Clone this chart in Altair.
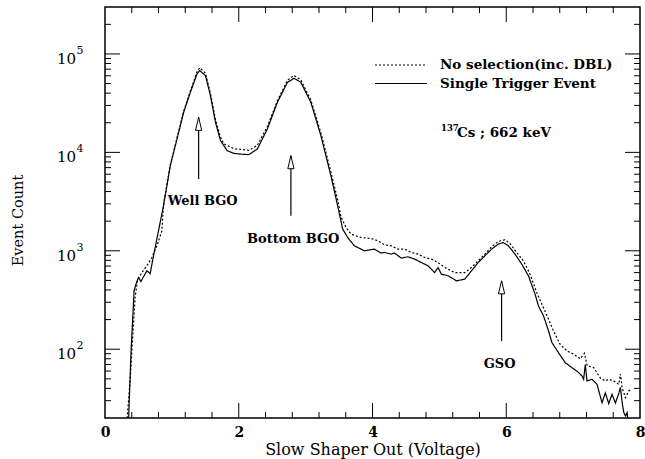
import altair as alt
import pandas as pd

# ---------------- data ----------------
single_x = [0.34, 0.353, 0.39, 0.435, 0.465, 0.5, 0.536, 0.626, 0.676, 0.725, 0.8, 0.875,
            0.976, 1.077, 1.176, 1.276, 1.377, 1.416, 1.502, 1.577, 1.652, 1.727, 1.827,
            1.927, 2.042, 2.152, 2.278, 2.428, 2.578, 2.728, 2.827, 2.928, 3.078, 3.228,
            3.378, 3.479, 3.554, 3.629, 3.728, 3.878, 4.028, 4.129, 4.179, 4.279, 4.329,
            4.429, 4.53, 4.629, 4.73, 4.83, 4.929, 4.98, 5.03, 5.131, 5.255, 5.38, 5.48,
            5.581, 5.68, 5.781, 5.881, 5.956, 6.031, 6.131, 6.231, 6.332, 6.431, 6.482,
            6.557, 6.632, 6.682, 6.782, 6.882, 6.982, 7.082, 7.132, 7.157, 7.182, 7.207,
            7.282, 7.357, 7.432, 7.482, 7.532, 7.582, 7.632, 7.683, 7.707, 7.733, 7.758,
            7.782, 7.808, 7.823]
single_y = [15, 19.5, 96, 392, 461, 535, 487, 626, 587, 889, 1596, 2871,
            7330, 13700, 25500, 40700, 62800, 67800, 60300, 37700, 20200, 13200, 10400,
            9770, 9590, 9480, 10830, 17300, 32300, 51500, 56600, 51500, 32300, 14800,
            5790, 2870, 1663, 1365, 1124, 1000, 1040, 948, 962, 925, 948,
            843, 869, 824, 761, 704, 601, 676, 579, 557, 495, 515, 626,
            761, 889, 1040, 1169, 1213, 1124, 925, 733, 557, 363, 275,
            218, 154, 117, 92, 73, 65, 58, 53.5, 49.5, 70, 47.6,
            49.5, 44, 28.6, 36, 28, 34.8, 28.4, 35.5, 41, 28.6, 22.7,
            21, 22.7, 17]

nosel_x = [0.32, 0.326, 0.375, 0.45, 0.485, 0.551, 0.626, 0.701, 0.776, 0.851, 0.875,
           0.976, 1.077, 1.176, 1.276, 1.377, 1.416, 1.502, 1.577, 1.652, 1.727, 1.776,
           1.927, 2.04, 2.152, 2.278, 2.428, 2.578, 2.728, 2.827, 2.928, 3.078, 3.228,
           3.378, 3.479, 3.53, 3.604, 3.679, 3.829, 3.979, 4.079, 4.179, 4.279, 4.38,
           4.479, 4.58, 4.68, 4.78, 4.88, 4.98, 5.08, 5.23, 5.38, 5.48, 5.581, 5.68,
           5.781, 5.881, 5.98, 6.056, 6.156, 6.257, 6.356, 6.456, 6.532, 6.632, 6.707,
           6.806, 6.907, 7.007, 7.107, 7.17, 7.21, 7.307, 7.407, 7.482, 7.532, 7.608,
           7.683, 7.707, 7.733, 7.782, 7.833, 7.872]
nosel_y = [15, 18, 47.5, 335, 495, 601, 704, 855, 1124, 1596, 2950,
           7400, 14000, 26000, 42000, 66000, 72500, 64000, 39500, 21500, 14300, 12200,
           10900, 10700, 10500, 11800, 18300, 33500, 54000, 60500, 54500, 34000, 15800,
           6300, 3300, 2200, 1726, 1479, 1365, 1334, 1265, 1151, 1124, 1040,
           1040, 962, 925, 855, 824, 761, 676, 601, 601, 676, 791, 925,
           1099, 1244, 1294, 1186, 962, 791, 579, 377, 287, 202, 153,
           112, 96, 89, 80, 91, 68, 65, 51, 47.6, 49.5, 47.6,
           44, 56, 40.7, 32.2, 37.7, 39.2]

series_names = ["No selection(inc. DBL)", "Single Trigger Event"]

x_major = [0, 2, 4, 6, 8]
x_minor = [0.4, 0.8, 1.2, 1.6, 2.4, 2.8, 3.2, 3.6, 4.4, 4.8, 5.2, 5.6, 6.4, 6.8, 7.2, 7.6]
y_major = [100, 1000, 10000, 100000]
y_label_base = ["10", "10", "10", "10"]
y_label_exp = ["2", "3", "4", "5"]
y_minor = [30, 40, 50, 60, 70, 80, 90,
           200, 300, 400, 500, 600, 700, 800, 900,
           2000, 3000, 4000, 5000, 6000, 7000, 8000, 9000,
           20000, 30000, 40000, 50000, 60000, 70000, 80000, 90000,
           200000]

arrow_names = ["Well BGO", "Bottom BGO", "GSO"]
arrow_x = [1.40, 2.78, 5.93]
arrow_tip = [22700, 9250, 495]
arrow_tail = [5360, 2270, 121]
label_x = [1.46, 2.815, 5.90]
label_y = [3230, 1316, 70]

# ---------------- layout constants ----------------
W, H = 535, 411
FONT = "DejaVu Serif"
MAJ, MIN = 15, 6

df = pd.DataFrame({
    "x": nosel_x + single_x,
    "y": nosel_y + single_y,
    "series": [series_names[0]] * len(nosel_x) + [series_names[1]] * len(single_x),
})
one = pd.DataFrame({"k": [0]})

xscale = alt.Scale(domain=[0, 8], nice=False, zero=False)
yscale = alt.Scale(type="log", domain=[20, 300000], nice=False)

x_axis = alt.Axis(values=x_major, format="d", ticks=False, domain=False, grid=False,
                  labelFlush=False, labelFont=FONT, labelFontWeight="bold", labelFontSize=14,
                  labelPadding=7, labelColor="black",
                  title="Slow Shaper Out (Voltage)", titleFont=FONT, titleFontSize=16,
                  titleFontWeight="normal", titleColor="black", titleY=31, titleBaseline="middle")
y_axis = alt.Axis(values=y_major, labels=False, ticks=False, domain=False, grid=False,
                  title="Event Count", titleFont=FONT, titleFontSize=14.5, titleFontWeight="normal",
                  titleColor="black", titleX=-87, titleY=213, titleAngle=-90,
                  titleAlign="center", titleBaseline="middle")

def X(field):
    return alt.X(field, type="quantitative", scale=xscale, axis=x_axis)

def Y(field):
    return alt.Y(field, type="quantitative", scale=yscale, axis=y_axis)

lines = alt.Chart(df).mark_line(clip=True, color="black", strokeWidth=1.2).encode(
    x=X("x"),
    y=Y("y"),
    strokeDash=alt.StrokeDash("series:N", scale=alt.Scale(domain=series_names, range=[[2, 2], [1, 0]]),
                              legend=None),
    detail="series:N",
)

def xticks(vals, length):
    d = pd.DataFrame({"x": vals})
    bot = alt.Chart(d).mark_rule(color="black", strokeWidth=1).encode(
        x=X("x"), y=alt.value(H), y2=alt.value(H - length))
    top = alt.Chart(d).mark_rule(color="black", strokeWidth=1).encode(
        x=X("x"), y=alt.value(0), y2=alt.value(length))
    return [bot, top]

def yticks(vals, length):
    d = pd.DataFrame({"y": vals})
    left = alt.Chart(d).mark_rule(color="black", strokeWidth=1).encode(
        y=Y("y"), x=alt.value(0), x2=alt.value(length))
    right = alt.Chart(d).mark_rule(color="black", strokeWidth=1).encode(
        y=Y("y"), x=alt.value(W), x2=alt.value(W - length))
    return [left, right]

ticks = xticks(x_major[1:-1], MAJ) + xticks(x_minor, MIN) + yticks(y_major, MAJ) + yticks(y_minor, MIN)

# y tick labels with real superscripts
ylab = pd.DataFrame({"y": y_major, "base": y_label_base, "exp": y_label_exp})
ylab_base = alt.Chart(ylab).mark_text(font=FONT, fontSize=15, align="right", baseline="middle",
                                      dy=5, color="black").encode(
    y=Y("y"), x=alt.value(-29), text="base:N")
ylab_exp = alt.Chart(ylab).mark_text(font=FONT, fontSize=11, align="left", baseline="middle",
                                     dy=-3, color="black").encode(
    y=Y("y"), x=alt.value(-28.5), text="exp:N")

adf = pd.DataFrame({"name": arrow_names, "x": arrow_x, "tip": arrow_tip, "tail": arrow_tail,
                    "lx": label_x, "ly": label_y})
shafts = alt.Chart(adf).mark_rule(color="black", strokeWidth=1.2).encode(
    x=X("x"), y=Y("tail"), y2="tip:Q")
heads = alt.Chart(adf).mark_point(shape="M0,0L0.24,1L-0.24,1Z", filled=True, fill="white",
                                  stroke="black", strokeWidth=1, size=676, opacity=1).encode(
    x=X("x"), y=Y("tip"))
labels = alt.Chart(adf).mark_text(font=FONT, fontSize=13, fontWeight="bold", color="black",
                                  align="center", baseline="middle").encode(
    x=X("lx"), y=Y("ly"), text="name:N")

# legend (drawn inside the frame)
def txt(s, px, py, size=13.5):
    return alt.Chart(one).mark_text(text=s, font=FONT, fontSize=size, fontWeight="bold",
                                    align="left", baseline="middle", color="black").encode(
        x=alt.value(px), y=alt.value(py))

leg1_line = alt.Chart(one).mark_rule(color="black", strokeWidth=1.2, strokeDash=[2, 2]).encode(
    x=alt.value(270), x2=alt.value(322), y=alt.value(58))
leg2_line = alt.Chart(one).mark_rule(color="black", strokeWidth=1.2).encode(
    x=alt.value(270), x2=alt.value(322), y=alt.value(76.5))

legend_parts = [leg1_line, leg2_line,
                txt(series_names[0], 335, 58), txt(series_names[1], 335, 76.5),
                txt("137", 336, 121, 8.5), txt("Cs ; 662 keV", 352, 126)]

chart = alt.layer(lines, *ticks, ylab_base, ylab_exp, shafts, heads, labels, *legend_parts).properties(
    width=W, height=H,
    padding={"left": 105, "right": 5, "top": 7, "bottom": 41},
    autosize=alt.AutoSizeParams(type="none"),
    background="white",
).configure_view(stroke="black", strokeWidth=1.5)

chart.save("out.html", embed_options={"renderer": "svg", "actions": False})
